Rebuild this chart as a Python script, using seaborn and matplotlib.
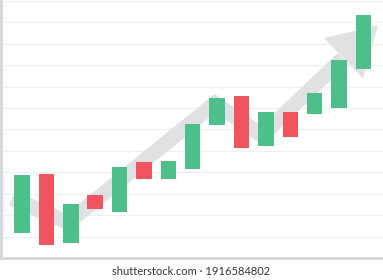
import matplotlib
matplotlib.use("Agg")
import matplotlib.pyplot as plt
import seaborn as sns
import pandas as pd
import numpy as np
from matplotlib.patches import Polygon

# --- data (candle bodies, no wicks) ---
opens  = [1.19, 3.90, 0.72, 2.93, 2.14, 4.48, 3.71, 4.15, 6.21, 7.55, 5.22, 6.80, 6.72, 7.00, 8.81]
closes = [3.86, 0.63, 2.50, 2.28, 4.24, 3.67, 4.52, 6.24, 7.47, 5.15, 6.80, 5.64, 7.72, 9.23, 11.35]
# trend arrow path (candle index, value)
trend_x = [-0.41, 1.89, 7.91, 9.84, 13.16]
trend_y = [2.78, 1.66, 7.22, 5.72, 9.32]
head_x = [14.59, 12.38, 13.98]
head_y = [10.86, 10.26, 8.39]
caption = "shutterstock.com · 1916584802"

GREEN = "#4dbf8a"
RED = "#f0545f"
ARROW = "#dfe1e2"
GRID = "#f0f0f0"
SPINE = "#d3d6d8"

df = pd.DataFrame({
    "idx": np.arange(len(opens)),
    "low": np.minimum(opens, closes),
    "high": np.maximum(opens, closes),
    "dir": ["up" if c >= o else "down" for o, c in zip(opens, closes)],
})

sns.set_theme(style="white")
fig = plt.figure(figsize=(3.83, 2.80), dpi=100)
fig.patch.set_facecolor("white")
ax = fig.add_axes([1.5 / 383, (280 - 258) / 280, 1 - 1.5 / 383, 258 / 280])

# arrow behind candles
ax.plot(trend_x, trend_y, color=ARROW, lw=10.8, solid_joinstyle="miter",
        solid_capstyle="butt", zorder=1)
ax.add_patch(Polygon(list(zip(head_x, head_y)), closed=True, color=ARROW, lw=0, zorder=1))

sns.barplot(data=df, x="idx", y="high", hue="dir",
            palette={"up": GREEN, "down": RED}, dodge=False, width=0.635,
            saturation=1, errorbar=None, legend=False, ax=ax, zorder=3, linewidth=0)

for p in ax.patches:
    if isinstance(p, Polygon):
        continue
    c = int(round(p.get_x() + p.get_width() / 2))
    if 0 <= c < len(df):
        p.set_y(df.loc[c, "low"])
        p.set_height(df.loc[c, "high"] - df.loc[c, "low"])

ax.set_xlim(-0.84, 14.8)
ax.set_ylim(0, 12.04)
ax.set_yticks(np.arange(1, 13))
ax.set_xticks([])
ax.set_yticklabels([])
ax.tick_params(left=False, bottom=False)
ax.set_xlabel("")
ax.set_ylabel("")
ax.grid(axis="y", color=GRID, lw=1.0, zorder=0)
ax.set_axisbelow(True)
for s in ["top", "right"]:
    ax.spines[s].set_visible(False)
for s in ["left", "bottom"]:
    ax.spines[s].set_color(SPINE)
    ax.spines[s].set_linewidth(2.0)

fig.text(0.5, 1 - 271.5 / 280, caption, ha="center", va="center",
         fontsize=8, color="#333333", family=["Lato", "DejaVu Sans"])

fig.savefig("out.png", dpi=100, facecolor="white")
